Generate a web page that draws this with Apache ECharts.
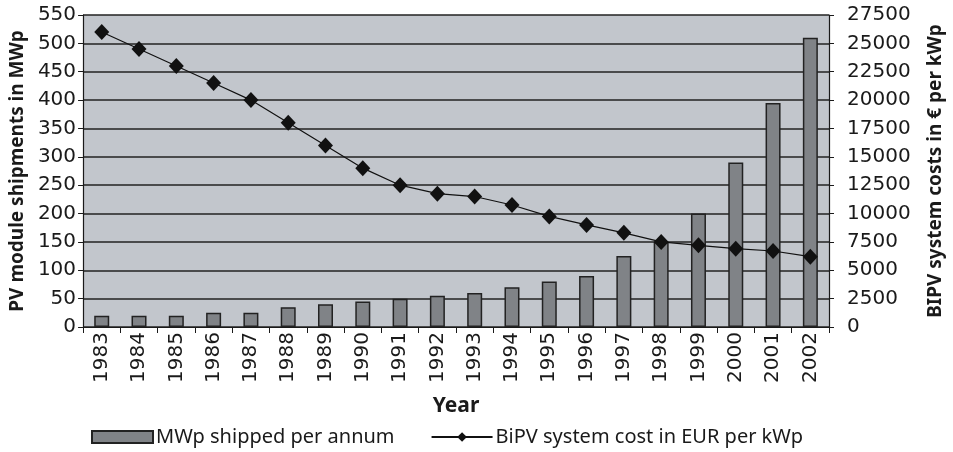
<!DOCTYPE html>
<html lang="en">
<head>
    <meta charset="utf-8" />
    <title>PV shipments and BIPV cost</title>
    <style>
        html, body { margin: 0; padding: 0; background: #fff; }
        #main { width: 953px; height: 452px; }
    </style>
</head>
<body>
    <div id="main"></div>
    <script src="https://cdn.jsdelivr.net/npm/echarts@6/dist/echarts.min.js"></script>
    <script>
    // data
    var years = ["1983", "1984", "1985", "1986", "1987", "1988", "1989", "1990", "1991", "1992",
                 "1993", "1994", "1995", "1996", "1997", "1998", "1999", "2000", "2001", "2002"];
    var shipped = [20, 20, 20, 25, 25, 35, 40, 45, 50, 55, 60, 70, 80, 90, 125, 150, 200, 290, 395, 510];
    var bipvCost = [26000, 24500, 23000, 21500, 20000, 18000, 16000, 14000, 12500, 11750,
                    11500, 10750, 9750, 9000, 8300, 7500, 7200, 6900, 6700, 6200];

    var numFont = "DejaVu Sans";
    var txtFont = "Noto Sans";
    var ink = "#1a1a1a";

    var myChart = echarts.init(document.getElementById("main"));
    var option = {
        animation: false,
        grid: {
            left: 79,
            right: 124,
            top: 15,
            bottom: 125,
            show: true,
            backgroundColor: "#c2c6cc",
            borderWidth: 0
        },
        legend: {
            left: 86,
            top: 422,
            itemWidth: 61,
            itemHeight: 12,
            itemGap: 36,
            textStyle: { fontFamily: txtFont, fontSize: 20, color: ink, padding: [0, 0, 0, -2] },
            data: [
                { name: "MWp shipped per annum", icon: "rect",
                  itemStyle: { color: "#808387", borderColor: "#222", borderWidth: 2 } },
                { name: "BiPV system cost in EUR per kWp" }
            ]
        },
        xAxis: {
            type: "category",
            data: years,
            name: "Year",
            nameLocation: "middle",
            nameGap: 69,
            nameTextStyle: { fontFamily: txtFont, fontSize: 21, fontWeight: "bold", color: ink },
            axisLine: { lineStyle: { color: ink, width: 1.2 } },
            axisTick: { show: true, length: 6, lineStyle: { color: ink } },
            axisLabel: {
                rotate: 90,
                margin: 5,
                interval: 0,
                fontFamily: numFont,
                fontSize: 20,
                color: ink
            }
        },
        yAxis: [{
            type: "value",
            min: 0,
            max: 550,
            interval: 50,
            position: "left",
            name: "PV module shipments in MWp",
            nameLocation: "middle",
            nameGap: 55,
            nameTextStyle: { fontFamily: txtFont, fontSize: 19, fontWeight: "bold", color: ink },
            axisLine: { show: true, lineStyle: { color: ink, width: 1.2 } },
            axisTick: { show: true, length: 5, lineStyle: { color: ink } },
            axisLabel: { margin: 7, fontFamily: numFont, fontSize: 20, color: ink },
            splitLine: { show: true, lineStyle: { color: "#222", width: 1.5 } }
        }, {
            type: "value",
            min: 0,
            max: 27500,
            interval: 2500,
            position: "right",
            name: "BIPV system costs in € per kWp",
            nameLocation: "middle",
            nameGap: 97,
            nameTextStyle: { fontFamily: txtFont, fontSize: 19, fontWeight: "bold", color: ink },
            axisLine: { show: true, lineStyle: { color: ink, width: 1.2 } },
            axisTick: { show: true, length: 5, lineStyle: { color: ink } },
            axisLabel: {
                margin: 18, fontFamily: numFont, fontSize: 20, color: ink,
                formatter: function (v) { return String(v); }
            },
            splitLine: { show: false }
        }],
        series: [{
            name: "MWp shipped per annum",
            type: "bar",
            yAxisIndex: 0,
            data: shipped,
            barWidth: 15,
            itemStyle: { color: "#808387", borderColor: "#222", borderWidth: 1.5 }
        }, {
            name: "BiPV system cost in EUR per kWp",
            type: "line",
            yAxisIndex: 1,
            data: bipvCost,
            symbol: "diamond",
            symbolSize: [15, 16],
            itemStyle: { color: "#111" },
            lineStyle: { color: "#111", width: 1.2 },
            z: 5
        }]
    };
    myChart.setOption(option);
    </script>
</body>
</html>
